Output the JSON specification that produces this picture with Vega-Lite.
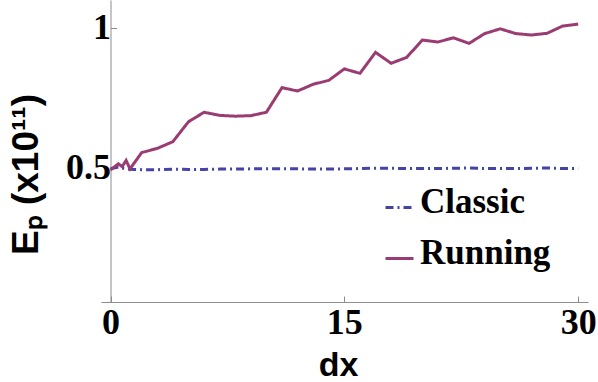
{
  "$schema": "https://vega.github.io/schema/vega-lite/v6.json",
  "autosize": "none",
  "width": 487,
  "height": 302,
  "padding": {"left": 101, "top": 0, "right": 10, "bottom": 80},
  "background": "white",
  "config": {
    "view": {"stroke": null},
    "axis": {"grid": false, "domainColor": "#8c8c8c", "tickColor": "#8c8c8c", "domainWidth": 1, "tickWidth": 1}
  },
  "data": {
    "values": [
      {"series": "Classic", "dx": 0, "ep": 0.497},
      {"series": "Classic", "dx": 0.5, "ep": 0.503},
      {"series": "Classic", "dx": 1, "ep": 0.496},
      {"series": "Classic", "dx": 2, "ep": 0.494},
      {"series": "Classic", "dx": 3, "ep": 0.494},
      {"series": "Classic", "dx": 4, "ep": 0.496},
      {"series": "Classic", "dx": 5, "ep": 0.495},
      {"series": "Classic", "dx": 6, "ep": 0.495},
      {"series": "Classic", "dx": 7, "ep": 0.496},
      {"series": "Classic", "dx": 8, "ep": 0.496},
      {"series": "Classic", "dx": 9, "ep": 0.497},
      {"series": "Classic", "dx": 10, "ep": 0.497},
      {"series": "Classic", "dx": 11, "ep": 0.497},
      {"series": "Classic", "dx": 12, "ep": 0.497},
      {"series": "Classic", "dx": 13, "ep": 0.496},
      {"series": "Classic", "dx": 14, "ep": 0.496},
      {"series": "Classic", "dx": 15, "ep": 0.497},
      {"series": "Classic", "dx": 16, "ep": 0.498},
      {"series": "Classic", "dx": 17, "ep": 0.499},
      {"series": "Classic", "dx": 18, "ep": 0.499},
      {"series": "Classic", "dx": 19, "ep": 0.498},
      {"series": "Classic", "dx": 20, "ep": 0.498},
      {"series": "Classic", "dx": 21, "ep": 0.498},
      {"series": "Classic", "dx": 22, "ep": 0.499},
      {"series": "Classic", "dx": 23, "ep": 0.5},
      {"series": "Classic", "dx": 24, "ep": 0.498},
      {"series": "Classic", "dx": 25, "ep": 0.498},
      {"series": "Classic", "dx": 26, "ep": 0.498},
      {"series": "Classic", "dx": 27, "ep": 0.499},
      {"series": "Classic", "dx": 28, "ep": 0.5},
      {"series": "Classic", "dx": 29, "ep": 0.498},
      {"series": "Classic", "dx": 30, "ep": 0.498},
      {"series": "Running", "dx": 0, "ep": 0.493},
      {"series": "Running", "dx": 0.5, "ep": 0.515},
      {"series": "Running", "dx": 0.75, "ep": 0.505},
      {"series": "Running", "dx": 1, "ep": 0.527},
      {"series": "Running", "dx": 1.25, "ep": 0.497},
      {"series": "Running", "dx": 2, "ep": 0.555},
      {"series": "Running", "dx": 3, "ep": 0.57},
      {"series": "Running", "dx": 4, "ep": 0.594},
      {"series": "Running", "dx": 5, "ep": 0.665},
      {"series": "Running", "dx": 6, "ep": 0.699},
      {"series": "Running", "dx": 7, "ep": 0.688},
      {"series": "Running", "dx": 8, "ep": 0.685},
      {"series": "Running", "dx": 9, "ep": 0.687},
      {"series": "Running", "dx": 10, "ep": 0.699},
      {"series": "Running", "dx": 11, "ep": 0.787},
      {"series": "Running", "dx": 12, "ep": 0.775},
      {"series": "Running", "dx": 13, "ep": 0.799},
      {"series": "Running", "dx": 14, "ep": 0.813},
      {"series": "Running", "dx": 15, "ep": 0.854},
      {"series": "Running", "dx": 16, "ep": 0.838},
      {"series": "Running", "dx": 17, "ep": 0.913},
      {"series": "Running", "dx": 18, "ep": 0.874},
      {"series": "Running", "dx": 19, "ep": 0.895},
      {"series": "Running", "dx": 20, "ep": 0.957},
      {"series": "Running", "dx": 21, "ep": 0.95},
      {"series": "Running", "dx": 22, "ep": 0.965},
      {"series": "Running", "dx": 23, "ep": 0.945},
      {"series": "Running", "dx": 24, "ep": 0.98},
      {"series": "Running", "dx": 25, "ep": 0.997},
      {"series": "Running", "dx": 26, "ep": 0.98},
      {"series": "Running", "dx": 27, "ep": 0.975},
      {"series": "Running", "dx": 28, "ep": 0.981},
      {"series": "Running", "dx": 29, "ep": 1.007},
      {"series": "Running", "dx": 30, "ep": 1.014}
    ]
  },
  "mark": {"type": "line", "strokeWidth": 3, "clip": false},
  "encoding": {
    "x": {
      "field": "dx", "type": "quantitative",
      "scale": {"domain": [-0.61, 30.63], "nice": false, "zero": false},
      "axis": {
        "values": [0, 15, 30], "tickSize": -6, "labelPadding": 9,
        "labelFont": "Liberation Serif", "labelFontWeight": "bold", "labelFontSize": 36, "labelColor": "black",
        "title": "dx", "titleFont": "Liberation Sans", "titleFontWeight": "bold", "titleFontSize": 34, "titleColor": "black",
        "titleBaseline": "alphabetic", "titleY": 73, "titleX": 237, "titleAnchor": null, "titleAlign": "center", "labelFlush": false
      }
    },
    "y": {
      "field": "ep", "type": "quantitative",
      "scale": {"domain": [0.0214, 1.1], "nice": false, "zero": false},
      "axis": {
        "values": [0.5, 1], "format": "~g", "tickSize": -6, "labelPadding": 6, "offset": -9.5,
        "labelFont": "Liberation Serif", "labelFontWeight": "bold", "labelFontSize": 36, "labelColor": "black",
        "title": "Eₚ (x10¹¹)", "titleFont": "Liberation Sans", "titleFontWeight": "bold", "titleFontSize": 37, "titleColor": "black",
        "titleAngle": -90, "titleBaseline": "alphabetic", "titleAlign": "center", "titleX": -73, "titleY": 174, "labelFlush": false
      }
    },
    "color": {
      "field": "series", "type": "nominal",
      "scale": {"domain": ["Classic", "Running"], "range": ["#4343a8", "#9a3b72"]},
      "legend": {
        "title": null, "orient": "none", "legendX": 281, "legendY": 190, "padding": 0,
        "symbolType": "stroke", "symbolSize": 784, "symbolStrokeWidth": 3,
        "labelFont": "Liberation Serif", "labelFontWeight": "bold", "labelFontSize": 35, "labelColor": "black",
        "labelBaseline": "alphabetic", "labelOffset": 3, "rowPadding": 15, "labelLimit": 300,
        "encode": {"labels": {"update": {"dy": {"value": 5}}}}
      }
    },
    "strokeDash": {
      "field": "series", "type": "nominal",
      "scale": {"domain": ["Classic", "Running"], "range": [[8, 4, 2, 4], [1, 0]]},
      "legend": {
        "title": null, "orient": "none", "legendX": 281, "legendY": 190, "padding": 0,
        "symbolType": "stroke", "symbolSize": 784, "symbolStrokeWidth": 3,
        "labelFont": "Liberation Serif", "labelFontWeight": "bold", "labelFontSize": 35, "labelColor": "black",
        "labelBaseline": "alphabetic", "labelOffset": 3, "rowPadding": 15, "labelLimit": 300,
        "encode": {"labels": {"update": {"dy": {"value": 5}}}}
      }
    }
  }
}
